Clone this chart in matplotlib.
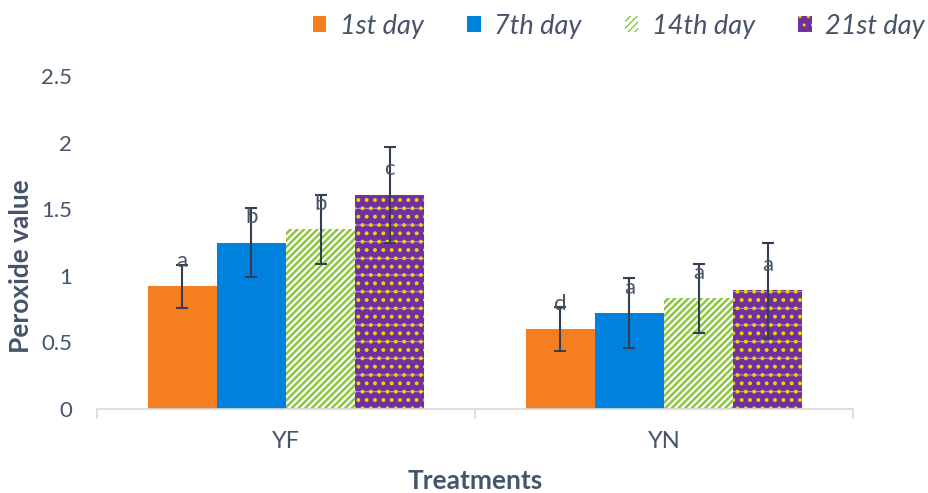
import matplotlib
matplotlib.use("Agg")
import matplotlib.pyplot as plt
import numpy as np

# Data
treatments = ["YF", "YN"]
days = ["1st day", "7th day", "14th day", "21st day"]
day1 = [0.92, 0.60]
day7 = [1.25, 0.72]
day14 = [1.35, 0.83]
day21 = [1.61, 0.89]
err1 = [0.16, 0.165]
err7 = [0.26, 0.26]
err14 = [0.26, 0.26]
err21 = [0.36, 0.36]
letters1 = ["a", "d"]
letters7 = ["b", "a"]
letters14 = ["b", "a"]
letters21 = ["c", "a"]
yticks = [0, 0.5, 1, 1.5, 2, 2.5]

plt.rcParams["font.family"] = ["Lato", "DejaVu Sans"]
txt = "#44546A"
err_col = "#333F50"

fig = plt.figure(figsize=(9.29, 4.93), dpi=100)
ax = fig.add_axes([0.1044, 0.1704, 0.8138, 0.6754])

x = np.arange(len(treatments))
w = 0.183
offsets = [-1.5 * w, -0.5 * w, 0.5 * w, 1.5 * w]
values = [day1, day7, day14, day21]
errs = [err1, err7, err14, err21]
letters = [letters1, letters7, letters14, letters21]

handles = []
# 1st day
b = ax.bar(x + offsets[0], day1, w, color="#F47E20", linewidth=0, zorder=2)
handles.append(b)
# 7th day
b = ax.bar(x + offsets[1], day7, w, color="#0081DD", linewidth=0, zorder=2)
handles.append(b)
# 14th day: white with green diagonal stripes
with plt.rc_context({"hatch.linewidth": 1.8}):
    b = ax.bar(x + offsets[2], day14, w, facecolor="white", edgecolor="#8CC63F",
               hatch="/////", linewidth=0, zorder=2)
handles.append(b)
# 21st day: purple with yellow dots and faint horizontal lines
with plt.rc_context({"hatch.linewidth": 0.7}):
    ax.bar(x + offsets[3], day21, w, facecolor="#7030A0", edgecolor="#B79AD6",
           hatch="-", linewidth=0, zorder=2)
with plt.rc_context({"hatch.linewidth": 1.6}):
    ax.bar(x + offsets[3], day21, w, facecolor="none", edgecolor="#F2D200",
           hatch="..", linewidth=0, zorder=2)
    proxy = plt.Rectangle((0, 0), 1, 1, facecolor="#7030A0", edgecolor="#F2D200",
                          hatch="..", linewidth=0)
handles.append(proxy)

for off, vals, er, let in zip(offsets, values, errs, letters):
    ax.errorbar(x + off, vals, yerr=er, fmt="none", ecolor=err_col,
                elinewidth=1.5, capsize=4.5, capthick=1.5, zorder=3)
    for xi, v, l in zip(x + off, vals, let):
        ax.text(xi, v + 0.19, l, ha="center", va="center", fontsize=16,
                color="#4A5568", zorder=4)

ax.set_xlim(-0.5, 1.5)
ax.set_ylim(0, 2.5)
ax.set_yticks(yticks)
ax.set_yticklabels([f"{t:g}" for t in yticks])
ax.tick_params(axis="y", length=0, labelsize=16, labelcolor=txt, pad=18)

ax.set_xticks(x)
ax.set_xticklabels(treatments)
ax.tick_params(axis="x", length=0, labelsize=17, labelcolor=txt, pad=16)
ax.set_xticks([-0.5, 0.5, 1.5], minor=True)
ax.tick_params(axis="x", which="minor", length=7, width=1.2, color="#D9D9D9")

for s in ["top", "right", "left"]:
    ax.spines[s].set_visible(False)
ax.spines["bottom"].set_color("#D9D9D9")
ax.spines["bottom"].set_linewidth(1.2)

ax.set_ylabel("Peroxide value", fontsize=19, fontweight="bold", color=txt,
              labelpad=6, y=0.43)
ax.set_xlabel("Treatments", fontsize=19, fontweight="bold", color=txt, labelpad=12)

leg = fig.legend(handles, days,
                 loc="upper right", bbox_to_anchor=(1.022, 1.022), ncol=4,
                 frameon=False, handlelength=0.5, handleheight=0.5,
                 handletextpad=0.5, columnspacing=1.6,
                 prop={"size": 19.5, "style": "italic"})
for t in leg.get_texts():
    t.set_color(txt)

fig.savefig("out.png", dpi=100)
